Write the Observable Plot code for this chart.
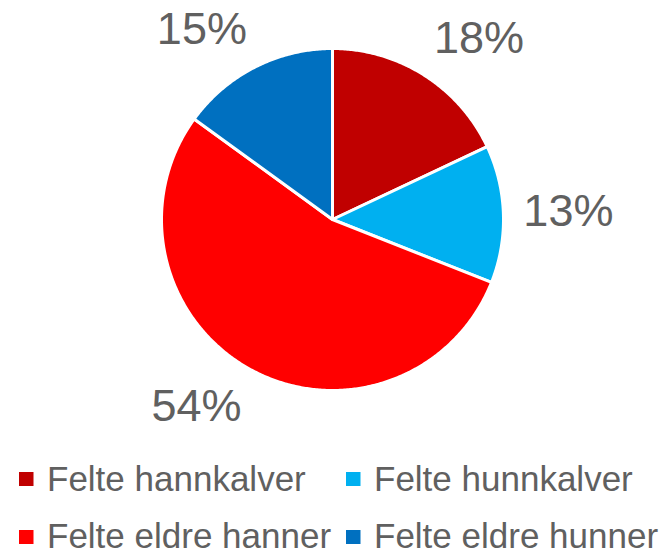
<!DOCTYPE html>
<html><head><meta charset="utf-8">
<script src="https://cdn.jsdelivr.net/npm/d3@7"></script>
<script src="https://cdn.jsdelivr.net/npm/@observablehq/plot@0.6"></script>
<style>body{margin:0;background:#fff}</style>
</head><body><div id="chart"></div>
<script>
// Data
const categories = ["Felte hannkalver", "Felte hunnkalver", "Felte eldre hanner", "Felte eldre hunner"];
const values = [18, 13, 54, 15];
const valueLabels = ["18%", "13%", "54%", "15%"];
const colors = ["#C00000", "#00B0F0", "#FF0000", "#0070C0"];

// Layout
const W = 666, H = 551, cx = 332, cy = 219, R = 171;
const total = d3.sum(values);
let acc = 0;
const slices = categories.map((c, i) => {
  const a0 = acc / total * 2 * Math.PI; acc += values[i];
  const a1 = acc / total * 2 * Math.PI;
  return {cat: c, value: values[i], label: valueLabels[i], a0, a1, mid: (a0 + a1) / 2};
});
const outline = slices.flatMap(s => {
  const n = Math.max(2, Math.ceil((s.a1 - s.a0) / (Math.PI / 360)));
  const pts = [{cat: s.cat, x: cx, y: cy}];
  for (let k = 0; k <= n; k++) {
    const a = s.a0 + (s.a1 - s.a0) * k / n;
    pts.push({cat: s.cat, x: cx + R * Math.sin(a), y: cy - R * Math.cos(a)});
  }
  pts.push({cat: s.cat, x: cx, y: cy});
  return pts;
});
const clamp = v => Math.max(-1, Math.min(1, v));
const labelPos = slices.map(s => {
  const sn = Math.sin(s.mid), cs = Math.cos(s.mid);
  return {label: s.label,
    x: cx + (R + 22) * sn + 43 * clamp(3 * sn),
    y: cy - (R + 20) * cs - 20 * clamp(3 * cs)};
});
const legend = categories.map((c, i) => ({cat: c, col: i % 2, row: Math.floor(i / 2)}));
const colX = [19, 346], rowMid = [479, 537], rowBase = [490, 547.5], sq = 14.5;

const chart = Plot.plot({
  width: W, height: H, margin: 0,
  x: {domain: [0, W], range: [0, W], axis: null},
  y: {domain: [0, H], range: [0, H], axis: null},
  color: {domain: categories, range: colors},
  style: {background: "#fff", overflow: "visible"},
  marks: [
    Plot.line(outline, {x: "x", y: "y", z: "cat", fill: "cat", stroke: "white", strokeWidth: 3, strokeLinejoin: "round"}),
    Plot.text(labelPos, {x: "x", y: "y", text: "label", fill: "#606060", fontSize: 45,
      fontFamily: "Liberation Sans, Arial, sans-serif", textAnchor: "middle", lineAnchor: "middle"}),
    Plot.rect(legend, {x1: d => colX[d.col], x2: d => colX[d.col] + sq,
      y1: d => rowMid[d.row] - 7, y2: d => rowMid[d.row] + 7, fill: "cat"}),
    Plot.text(legend, {x: d => colX[d.col] + 27.5, y: d => rowBase[d.row], text: "cat", fill: "#606060",
      fontSize: 35, fontFamily: "Liberation Sans, Arial, sans-serif", textAnchor: "start", lineAnchor: "bottom"})
  ]
});
document.getElementById("chart").append(chart);
</script>
</body></html>
